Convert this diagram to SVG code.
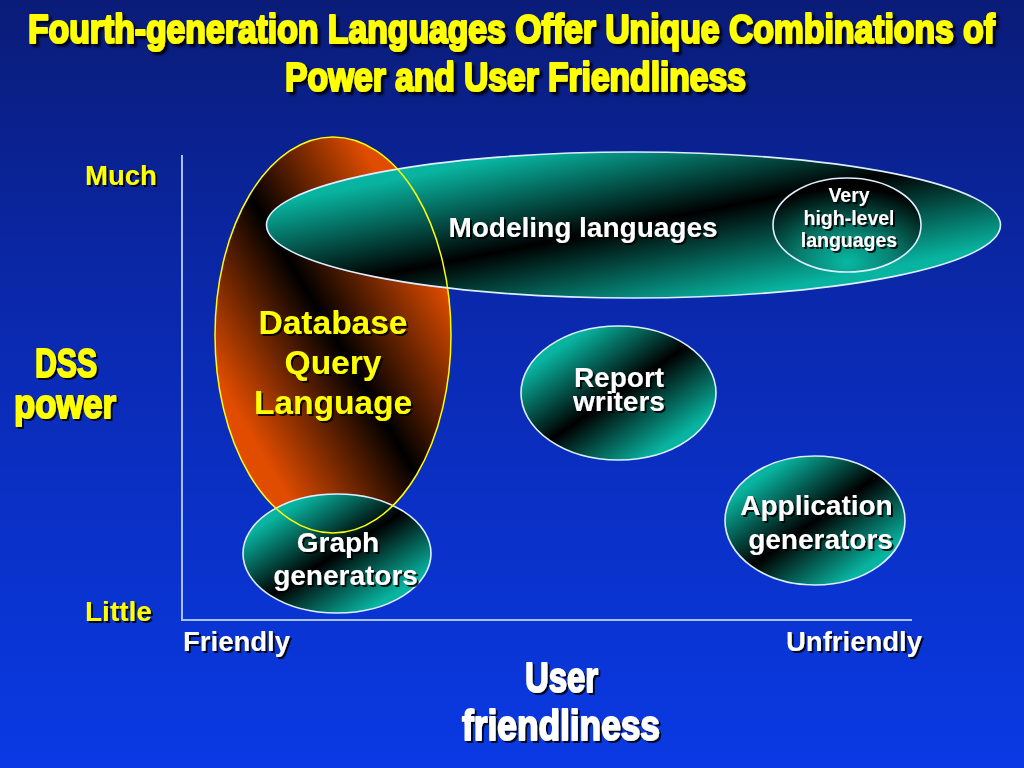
<svg xmlns="http://www.w3.org/2000/svg" xmlns:xlink="http://www.w3.org/1999/xlink" width="1024" height="768" viewBox="0 0 1024 768">
<defs>
  <linearGradient id="bg" x1="0" y1="0" x2="0" y2="1">
    <stop offset="0" stop-color="#0A1C78"/>
    <stop offset="0.45" stop-color="#0A2AB2"/>
    <stop offset="1" stop-color="#0A3AE4"/>
  </linearGradient>
  <linearGradient id="tealUp" x1="0" y1="0" x2="1" y2="1">
    <stop offset="0" stop-color="#08BAA4"/>
    <stop offset="0.18" stop-color="#08B4A0"/>
    <stop offset="0.5" stop-color="#000000"/>
    <stop offset="0.82" stop-color="#08B4A0"/>
    <stop offset="1" stop-color="#08BAA4"/>
  </linearGradient>
  <linearGradient id="orangeDown" x1="0" y1="1" x2="1" y2="0">
    <stop offset="0" stop-color="#E85000"/>
    <stop offset="0.2" stop-color="#E04C00"/>
    <stop offset="0.5" stop-color="#000000"/>
    <stop offset="0.8" stop-color="#E04C00"/>
    <stop offset="1" stop-color="#E85000"/>
  </linearGradient>
  <radialGradient id="tealRadial" cx="0.5" cy="0.9" r="0.8" fx="0.5" fy="0.9">
    <stop offset="0" stop-color="#08B8A2"/>
    <stop offset="0.4" stop-color="#068070"/>
    <stop offset="1" stop-color="#000000"/>
  </radialGradient>
  <filter id="sh" x="-10%" y="-20%" width="130%" height="150%">
    <feDropShadow dx="2" dy="2" stdDeviation="0.6" flood-color="#000000" flood-opacity="0.85"/>
  </filter>
  <filter id="shT" x="-5%" y="-30%" width="115%" height="170%">
    <feDropShadow dx="3" dy="3" stdDeviation="0.8" flood-color="#000010" flood-opacity="0.9"/>
  </filter>
  <style>
    .lbl { font-family: "Liberation Sans", Arial, sans-serif; font-weight: bold; }
    .cond { font-family: "Liberation Sans Narrow", "Liberation Sans", Arial, sans-serif; font-weight: bold; stroke-width: 1.8; stroke-linejoin: round; }
    .yel { fill: #FFFF00; }
    .yelS { fill: #FFFF00; stroke: #FFFF00; }
    .wht { fill: #FFFFFF; }
    .whtS { fill: #FFFFFF; stroke: #FFFFFF; }
    .mid { text-anchor: middle; }
    .teal { stroke: #DDEEFF; stroke-width: 1.6; }
    .axis { stroke: #A8C0FF; stroke-width: 2; fill: none; }
  </style>
  <ellipse id="dbShape" cx="333" cy="335" rx="118" ry="198"/>
</defs>

<rect x="0" y="0" width="1024" height="768" fill="url(#bg)"/>

<g id="title" class="cond yelS" font-size="41" filter="url(#shT)">
  <text transform="translate(28,43) scale(0.72,1)" x="0" y="0" stroke-width="2.2" textLength="1343" lengthAdjust="spacingAndGlyphs">Fourth-generation Languages Offer Unique Combinations of</text>
  <text transform="translate(285,91) scale(0.72,1)" x="0" y="0" stroke-width="2.2" textLength="640" lengthAdjust="spacingAndGlyphs">Power and User Friendliness</text>
</g>

<g id="axes">
  <polyline class="axis" points="182,155 182,620 912,620"/>
</g>

<g id="node-database-fill">
  <use xlink:href="#dbShape" fill="url(#orangeDown)"/>
</g>

<g id="node-modeling">
  <ellipse class="teal" cx="633.5" cy="225" rx="367" ry="73" fill="url(#tealUp)"/>
  <text class="lbl wht mid" x="583" y="237" font-size="28" filter="url(#sh)">Modeling languages</text>
</g>

<g id="node-very-high-level">
  <ellipse class="teal" cx="847" cy="225" rx="74" ry="47" fill="url(#tealRadial)"/>
  <g class="lbl wht mid" font-size="19.5" filter="url(#sh)">
    <text x="849" y="202">Very</text>
    <text x="849" y="225">high-level</text>
    <text x="849" y="247">languages</text>
  </g>
</g>

<g id="node-report">
  <ellipse class="teal" cx="618.5" cy="393" rx="97.5" ry="67" fill="url(#tealUp)"/>
  <g class="lbl wht mid" font-size="28" filter="url(#sh)">
    <text x="619" y="387">Report</text>
    <text x="619" y="411">writers</text>
  </g>
</g>

<g id="node-application">
  <ellipse class="teal" cx="815" cy="520.5" rx="90" ry="64.5" fill="url(#tealUp)"/>
  <g class="lbl wht mid" font-size="28" filter="url(#sh)">
    <text x="816.5" y="515">Application</text>
    <text x="820.5" y="549">generators</text>
  </g>
</g>

<g id="node-graph">
  <ellipse class="teal" cx="337" cy="553.5" rx="94" ry="59.5" fill="url(#tealUp)"/>
  <g class="lbl wht mid" font-size="28" filter="url(#sh)">
    <text x="338" y="552">Graph</text>
    <text x="345.5" y="585">generators</text>
  </g>
</g>

<g id="node-database">
  <use xlink:href="#dbShape" fill="none" stroke="#FFFF00" stroke-width="1.5"/>
  <g class="lbl yel mid" font-size="33.5" filter="url(#sh)">
    <text x="333" y="334">Database</text>
    <text x="333" y="374">Query</text>
    <text x="333" y="414">Language</text>
  </g>
</g>

<g id="axis-labels" filter="url(#sh)">
  <text class="lbl yel" x="85" y="185" font-size="27.5">Much</text>
  <text class="lbl yel" x="85" y="621" font-size="28">Little</text>
  <text class="lbl wht" x="183" y="651" font-size="27.5">Friendly</text>
  <text class="lbl wht" x="786" y="651" font-size="27.5">Unfriendly</text>
  <g class="cond yelS" font-size="40">
    <text x="35" y="377" textLength="62" lengthAdjust="spacingAndGlyphs">DSS</text>
    <text x="14" y="418" textLength="102" lengthAdjust="spacingAndGlyphs">power</text>
  </g>
  <g class="cond whtS" font-size="42">
    <text x="525" y="692" textLength="73" lengthAdjust="spacingAndGlyphs">User</text>
    <text x="462" y="740" textLength="198" lengthAdjust="spacingAndGlyphs">friendliness</text>
  </g>
</g>
</svg>
